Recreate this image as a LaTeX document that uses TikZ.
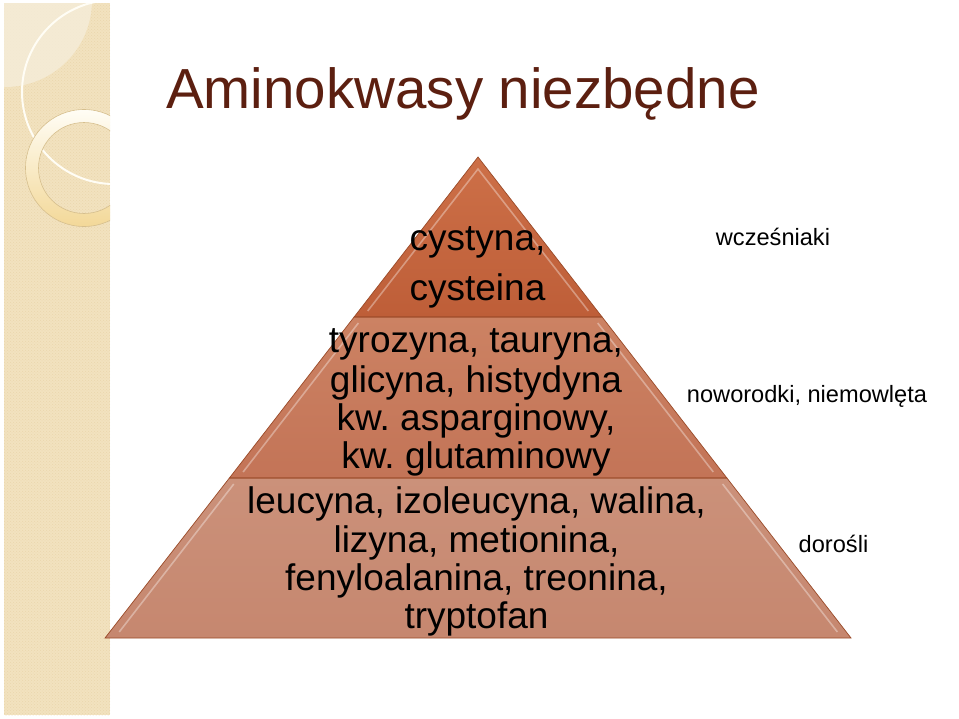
\documentclass[tikz,border=0pt]{standalone}
\usepackage{fontspec}
\setmainfont{Liberation Sans}
\usetikzlibrary{patterns}
\frenchspacing
\definecolor{titlec}{HTML}{5C1F10}
\definecolor{stripc}{HTML}{F2E2BF}
\definecolor{stripdot}{HTML}{EAD6AC}
\definecolor{stripl}{HTML}{F5ECD8}
\definecolor{ringline}{HTML}{D6BF8E}
\definecolor{ringtop}{HTML}{FFFDF5}
\definecolor{ringbot}{HTML}{F3D898}
\definecolor{edgec}{HTML}{9A4A28}
\definecolor{tAtop}{HTML}{CD7048}
\definecolor{tAbot}{HTML}{BE5E38}
\definecolor{tBtop}{HTML}{CC8263}
\definecolor{tBbot}{HTML}{C37457}
\definecolor{tCtop}{HTML}{CB917A}
\definecolor{tCbot}{HTML}{C6876F}
\tikzset{
  pyrtext/.style={anchor=base, inner sep=0pt, text=black, font=\fontsize{37}{38.7}\selectfont},
  sidelabel/.style={anchor=base, inner sep=0pt, text=black, font=\fontsize{23.6}{25}\selectfont},
  tieredge/.style={draw=edgec, line width=0.7pt},
  bevel/.style={draw=white, draw opacity=0.35, line width=1.6pt, line join=miter},
}
\begin{document}
\begin{tikzpicture}[x=1pt,y=-1pt]
\useasboundingbox (0,0) rectangle (959,718);
\fill[white] (0,0) rectangle (959,718);
% decorative strip
\begin{scope}
  \clip (4,3) rectangle (110,715);
  \fill[stripc] (4,3) rectangle (110,715);
  \fill[pattern=crosshatch dots, pattern color=stripdot] (4,3) rectangle (110,715);
  \fill[stripl, fill opacity=0.85] (5,0) circle (87);
  \draw[color=ringtop, line width=2pt] (114,92) circle (92);
  \shade[top color=ringtop, bottom color=ringbot, even odd rule] (84,168) circle (58.5) (84,168) circle (45.5);
  \draw[ringline, line width=0.6pt] (84,168) circle (58.5) (84,168) circle (45.5);
\end{scope}
% title
\node[anchor=base west, inner sep=0pt, text=titlec, font=\fontsize{56.5}{60}\selectfont] (title) at (166,108) {Aminokwasy niezbędne};
% pyramid tiers
\coordinate (apex) at (478,157);
\coordinate (aL) at (354.1,317);
\coordinate (aR) at (602.1,317);
\coordinate (bL) at (229.4,478);
\coordinate (bR) at (726.9,478);
\coordinate (cL) at (105,638);
\coordinate (cR) at (851,638);
\shade[top color=tCtop, bottom color=tCbot] (bL) -- (bR) -- (cR) -- (cL) -- cycle;
\shade[top color=tBtop, bottom color=tBbot] (aL) -- (aR) -- (bR) -- (bL) -- cycle;
\shade[top color=tAtop, bottom color=tAbot] (apex) -- (aR) -- (aL) -- cycle;
\draw[tieredge] (bL) -- (bR) -- (cR) -- (cL) -- cycle;
\draw[tieredge] (aL) -- (aR) -- (bR) -- (bL) -- cycle;
\draw[tieredge] (apex) -- (aR) -- (aL) -- cycle;
% bevel highlights
\draw[bevel] (367.7,311) -- (478,169) -- (588.4,311);
\draw[bevel] (243.1,472) -- (358.4,323);
\draw[bevel] (597.7,323) -- (713.3,472);
\draw[bevel] (119.2,632) -- (233.8,484);
\draw[bevel] (722.6,484) -- (837.4,632);
% tier texts
\node[pyrtext] (a1) at (477.5,250) {cystyna,};
\node[pyrtext] (a2) at (477.5,300) {cysteina};
\node[pyrtext] (b1) at (476,352) {tyrozyna, tauryna,};
\node[pyrtext] (b2) at (476,392) {glicyna, histydyna};
\node[pyrtext] (b3) at (476,430) {kw. asparginowy,};
\node[pyrtext] (b4) at (476,468) {kw. glutaminowy};
\node[pyrtext] (c1) at (476.5,513) {leucyna, izoleucyna, walina,};
\node[pyrtext] (c2) at (476.5,552) {lizyna, metionina,};
\node[pyrtext] (c3) at (476.5,590) {fenyloalanina, treonina,};
\node[pyrtext] (c4) at (476.5,628) {tryptofan};
% side labels
\node[sidelabel] (w) at (773,245) {wcześniaki};
\node[sidelabel] (n) at (807,402) {noworodki, niemowlęta};
\node[sidelabel] (d) at (833.5,552) {dorośli};
\end{tikzpicture}
\end{document}
